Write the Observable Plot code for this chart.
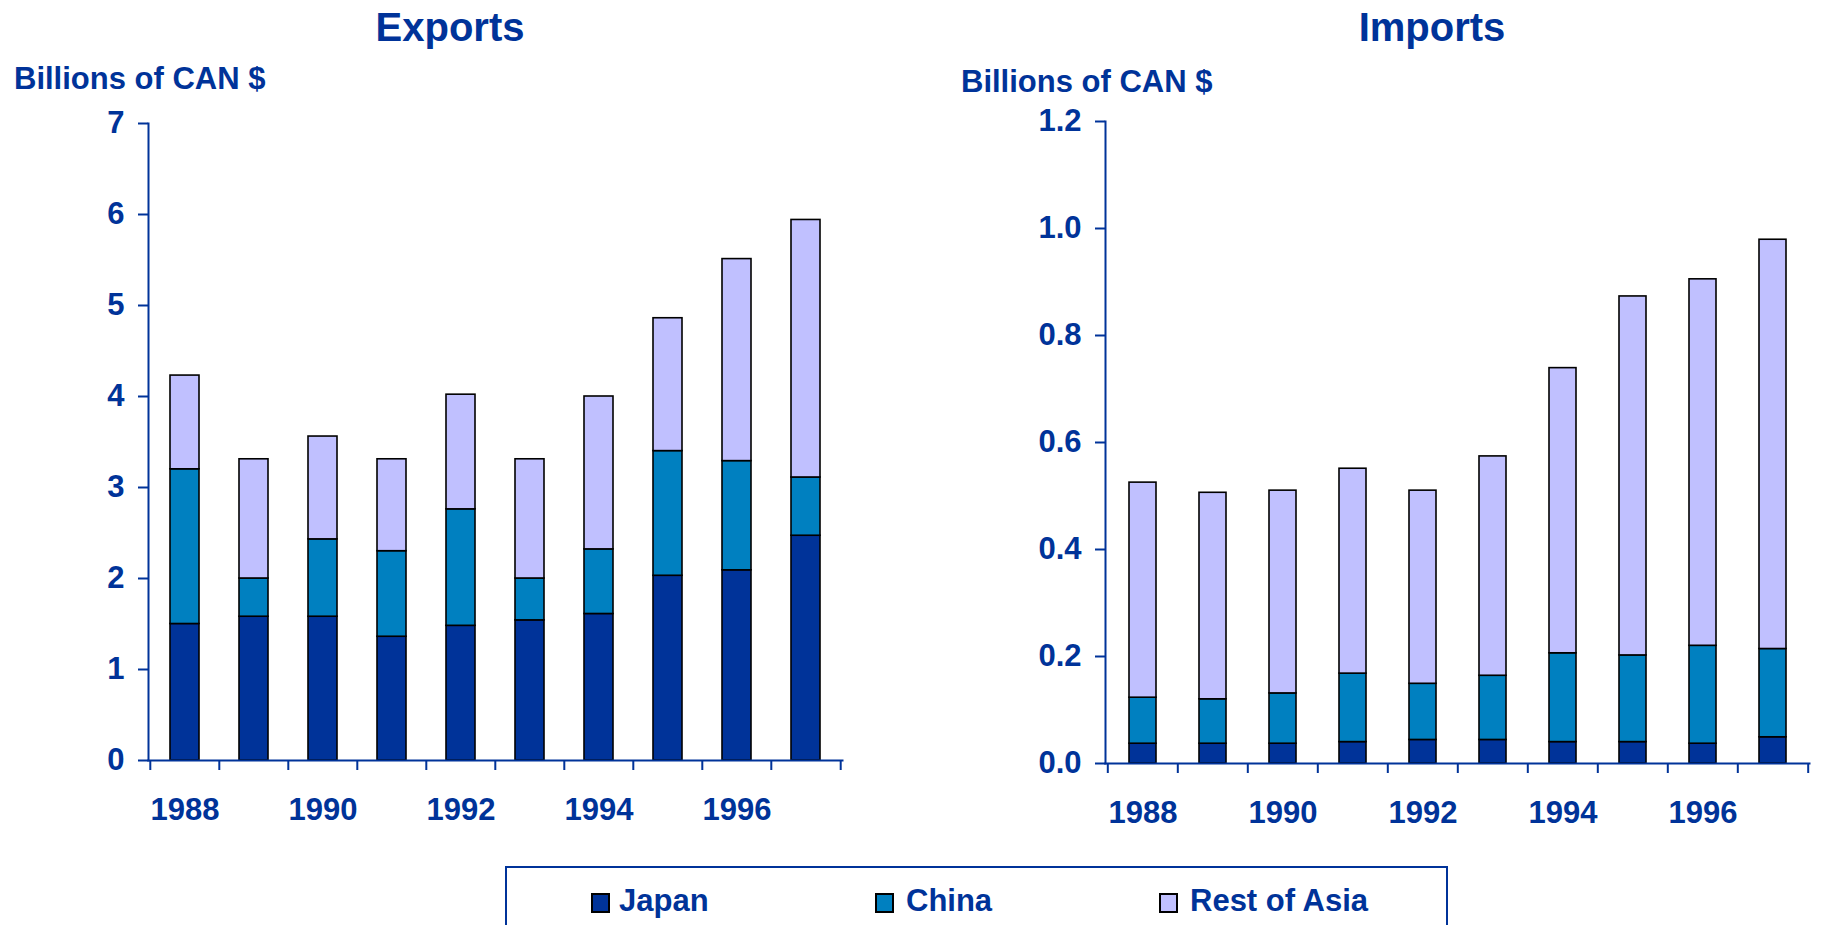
<!DOCTYPE html>
<html><head><meta charset="utf-8">
<script src="https://cdn.jsdelivr.net/npm/d3@7"></script>
<script src="https://cdn.jsdelivr.net/npm/@observablehq/plot@0.6"></script>
<style>
html,body{margin:0;padding:0;background:#fff}
body{width:1822px;height:925px;overflow:hidden;position:relative;font-family:"Liberation Sans",Arial,sans-serif;font-weight:bold;color:#003399}
.abs{position:absolute;line-height:1;white-space:nowrap}
.chart{position:absolute;top:0}
</style></head><body>
<script>
// ---- data ----
const years = [1988, 1989, 1990, 1991, 1992, 1993, 1994, 1995, 1996, 1997];
const yearLabels = [1988, 1990, 1992, 1994, 1996];
const seriesNames = ["Japan", "China", "Rest of Asia"];
const seriesColors = ["#003399", "#0080C0", "#C0C0FF"];

const exportsJapan = [1.50, 1.58, 1.58, 1.36, 1.48, 1.54, 1.61, 2.03, 2.09, 2.47];
const exportsChina = [1.70, 0.42, 0.85, 0.94, 1.28, 0.46, 0.71, 1.37, 1.20, 0.64];
const exportsRest  = [1.03, 1.31, 1.13, 1.01, 1.26, 1.31, 1.68, 1.46, 2.22, 2.83];

const importsJapan = [0.037, 0.037, 0.037, 0.040, 0.044, 0.044, 0.040, 0.040, 0.037, 0.049];
const importsChina = [0.086, 0.083, 0.094, 0.128, 0.105, 0.120, 0.166, 0.162, 0.183, 0.165];
const importsRest  = [0.402, 0.386, 0.379, 0.383, 0.361, 0.410, 0.533, 0.671, 0.685, 0.765];

const exportsTicks = [0, 1, 2, 3, 4, 5, 6, 7];
const importsTicks = [0, 0.2, 0.4, 0.6, 0.8, 1.0, 1.2];

const BLUE = "#003399";

function tidy(j, c, r) {
  return years.flatMap((y, i) => [
    {year: y, series: seriesNames[0], value: j[i]},
    {year: y, series: seriesNames[1], value: c[i]},
    {year: y, series: seriesNames[2], value: r[i]}
  ]);
}

function chart({data, width, height, ml, mr, mt, mb, yTicks, yFormat, pad}) {
  const step = (width - ml - mr) / years.length;
  const last = years[years.length - 1];
  return Plot.plot({
    width, height,
    marginLeft: ml, marginRight: mr, marginTop: mt, marginBottom: mb,
    style: {fontFamily: "'Liberation Sans', Arial, sans-serif", fontWeight: "bold", color: BLUE, background: "transparent", overflow: "visible"},
    x: {type: "band", domain: years, paddingInner: pad, paddingOuter: pad / 2, label: null},
    y: {domain: [yTicks[0], yTicks[yTicks.length - 1]], label: null},
    color: {domain: seriesNames, range: seriesColors},
    marks: [
      Plot.barY(data, Plot.stackY({x: "year", y: "value", z: "series", fill: "series", order: seriesNames, stroke: "black", strokeWidth: 1.6})),
      Plot.axisY({ticks: yTicks, tickFormat: yFormat, tickSize: 10, tickPadding: 14, fontSize: 31, strokeWidth: 2, label: null}),
      Plot.axisX({ticks: yearLabels, tickFormat: (d) => String(d), tickSize: 0, tickPadding: 37, fontSize: 31, label: null}),
      Plot.axisX({ticks: years, tickSize: 10, strokeWidth: 2, tickFormat: () => "", dx: -step / 2, label: null}),
      Plot.axisX({ticks: [last], tickSize: 10, strokeWidth: 2, tickFormat: () => "", dx: step / 2, label: null}),
      Plot.frame({anchor: "left", strokeWidth: 2}),
      Plot.frame({anchor: "bottom", strokeWidth: 2})
    ]
  });
}

const left = chart({
  data: tidy(exportsJapan, exportsChina, exportsRest),
  width: 900, height: 860, ml: 148, mr: 58, mt: 123, mb: 100,
  yTicks: exportsTicks, yFormat: d3.format("d"), pad: 0.58
});
left.classList.add("chart");
left.style.left = "0px";
document.body.appendChild(left);

const right = chart({
  data: tidy(importsJapan, importsChina, importsRest),
  width: 902, height: 860, ml: 185, mr: 13, mt: 121, mb: 97,
  yTicks: importsTicks, yFormat: d3.format(".1f"), pad: 0.62
});
right.classList.add("chart");
right.style.left = "920px";
document.body.appendChild(right);

// ---- titles ----
function label(text, x, top, size, anchor) {
  const d = document.createElement("div");
  d.className = "abs";
  d.textContent = text;
  d.style.fontSize = size + "px";
  d.style.top = top + "px";
  d.style.left = x + "px";
  if (anchor === "middle") d.style.transform = "translateX(-50%)";
  document.body.appendChild(d);
}
label("Exports", 450, 7, 40, "middle");
label("Imports", 1432, 7, 40, "middle");
label("Billions of CAN $", 14, 63, 31);
label("Billions of CAN $", 961, 66, 31);

// ---- legend ----
const legend = d3.select("body").append("div")
  .style("position", "absolute").style("left", "505px").style("top", "866px")
  .style("width", "939px").style("height", "80px")
  .style("border", "2px solid " + BLUE).style("border-bottom", "none");
const itemLeft = [84, 368, 652];
seriesNames.forEach((name, i) => {
  const item = legend.append("div").style("position", "absolute")
    .style("left", itemLeft[i] + "px").style("top", "17px")
    .style("display", "flex").style("align-items", "flex-end");
  item.append("div").style("width", "15px").style("height", "16px")
    .style("background", seriesColors[i]).style("border", "2px solid black")
    .style("margin-right", i === 0 ? "9px" : "12px").style("margin-bottom", "3px");
  item.append("div").style("font-size", "31px").style("line-height", "1").text(name);
});
</script>
</body></html>
